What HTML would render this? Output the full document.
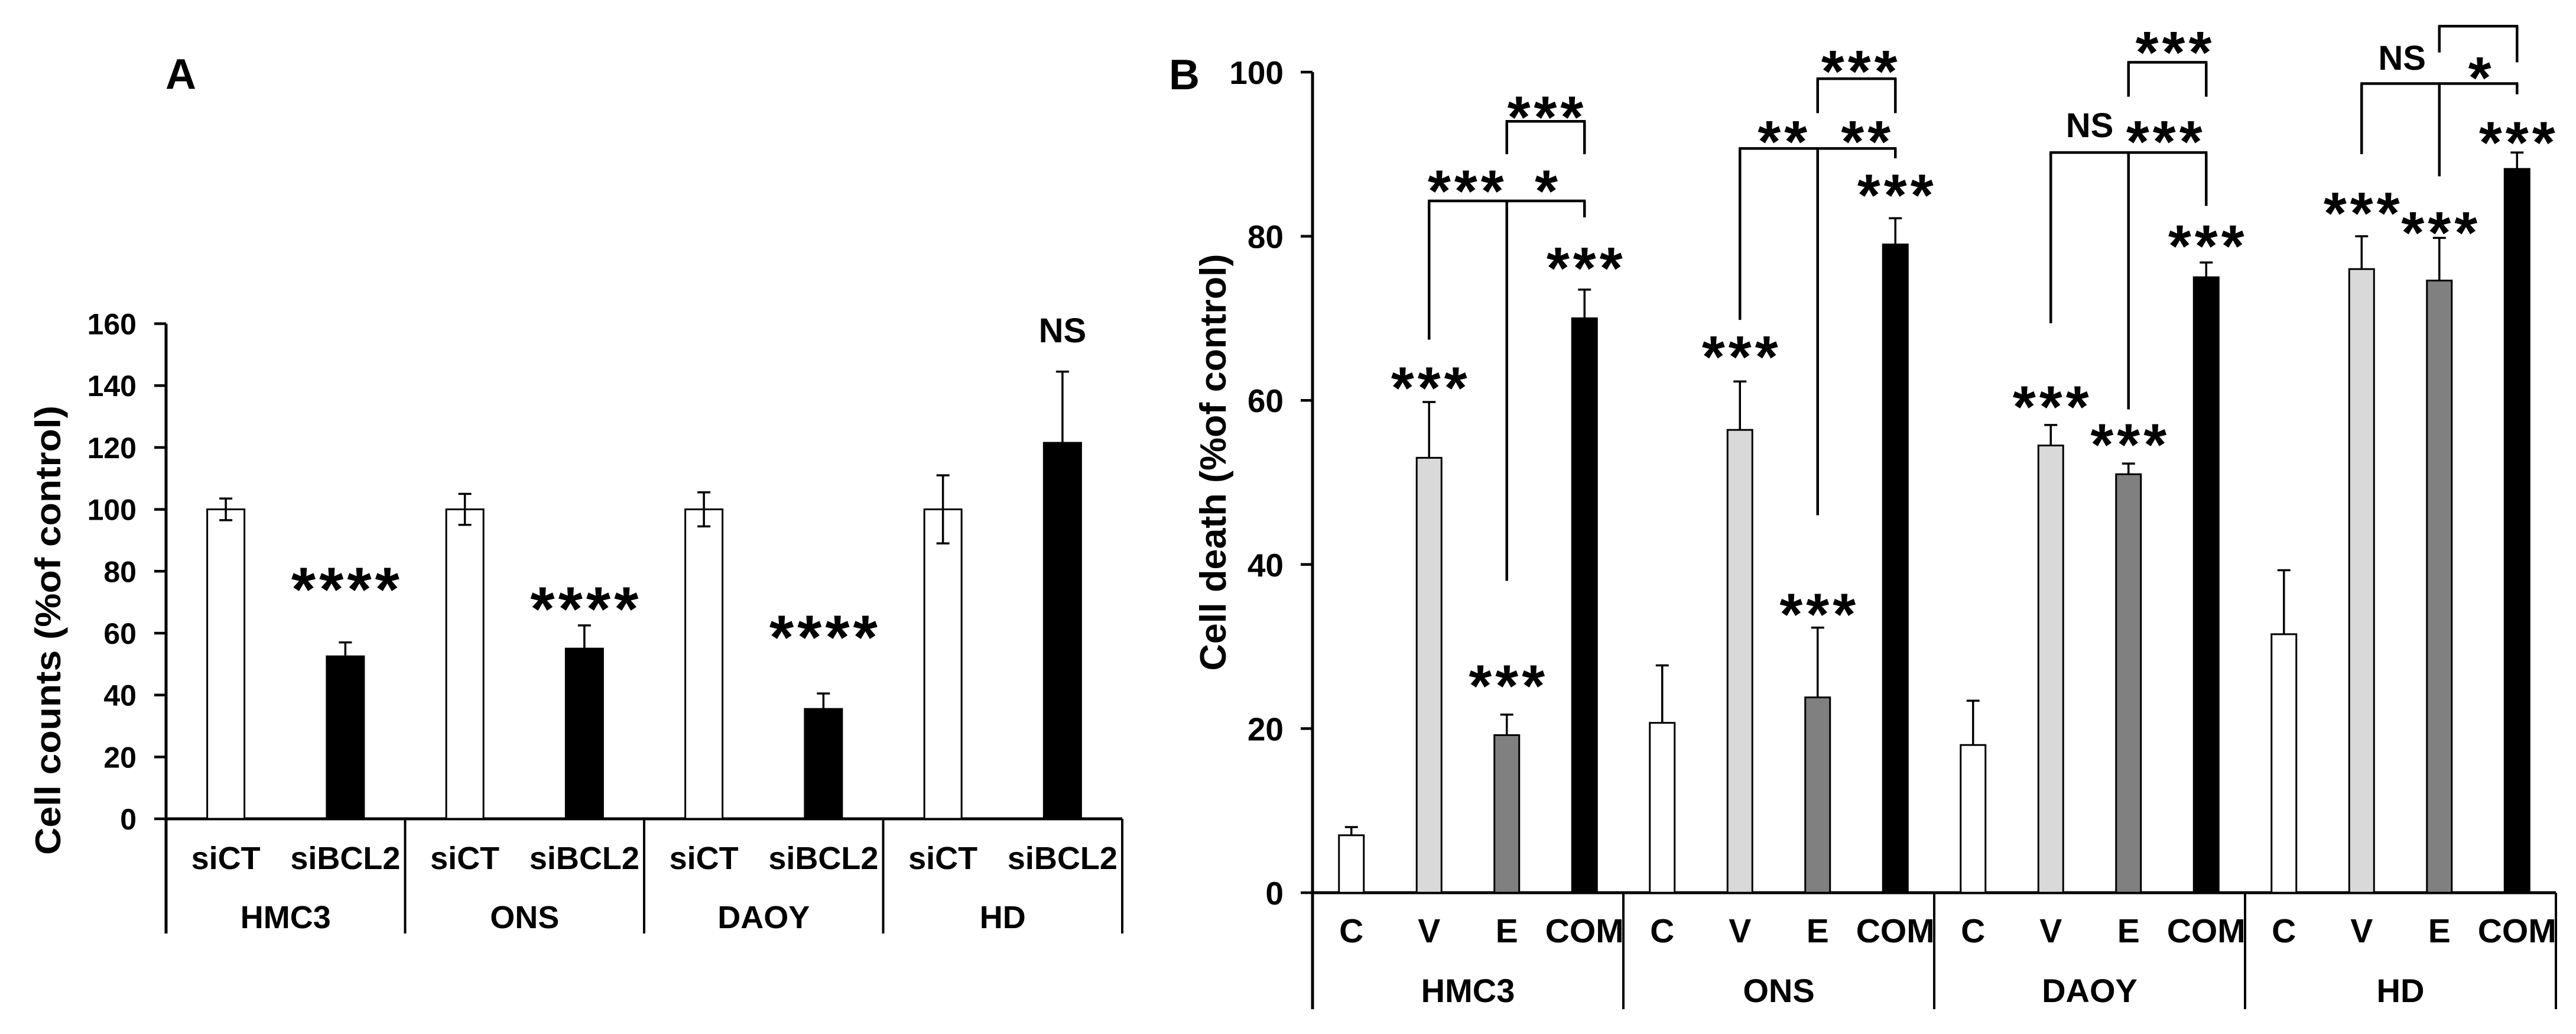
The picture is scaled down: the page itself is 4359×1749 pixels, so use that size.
<!DOCTYPE html>
<html><head><meta charset="utf-8"><style>
html,body{margin:0;padding:0;background:#fff}
svg{display:block}
text{font-family:"Liberation Sans",Arial,sans-serif;font-weight:bold;fill:#000}
</style></head><body>
<svg id="fig" xmlns="http://www.w3.org/2000/svg" width="4359" height="1749" viewBox="0 0 4359 1749">
<rect width="4359" height="1749" fill="#fff"/>
<text x="306" y="150" font-size="72" text-anchor="middle">A</text>
<text x="2004" y="151" font-size="72" text-anchor="middle">B</text>
<text font-size="60" text-anchor="middle" textLength="760" lengthAdjust="spacingAndGlyphs" transform="translate(102,1066) rotate(-90)">Cell counts  (%of control)</text>
<text font-size="62" text-anchor="middle" textLength="705" lengthAdjust="spacingAndGlyphs" transform="translate(2074,782) rotate(-90)">Cell death (%of control)</text>
<g id="pa"></g>
<g id="pb"></g>
</svg>
<script>
// ---------- Panel A data ----------
const aGroups = ["HMC3","ONS","DAOY","HD"];
const aConds = ["siCT","siBCL2"];
const aSiCT = [100,100,100,100];
const aSiCTErr = [3.5,5,5.5,11];
const aSiBCL2 = [52.5,55,35.5,121.5];
const aSiBCL2Err = [4.5,7.5,5,23];
const aSigText = ["****","****","****","NS"];
const aSigY = [78.3,72,62.8,158];
const aTicks = [0,20,40,60,80,100,120,140,160];

// ---------- Panel B data ----------
const bGroups = ["HMC3","ONS","DAOY","HD"];
const bConds = ["C","V","E","COM"];
const bC = [7,20.7,18,31.5];
const bCErr = [1,7,5.4,7.8];
const bV = [53,56.4,54.5,76];
const bVErr = [6.8,5.9,2.5,4];
const bE = [19.2,23.8,51,74.6];
const bEErr = [2.5,8.5,1.3,5.2];
const bCOM = [70,79,75,88.2];
const bCOMErr = [3.5,3.2,1.8,2];
const bStarV = [63,66.8,60.7,84.3];
const bStarE = [26.7,35.4,56.1,81.9];
const bStarCOM = [77.6,86.5,80.3,92.9];
const bLowTop = [84.3,90.7,90.2,98.6];
const bLowLegV = [67.4,69.8,69.4,90];
const bLowLegE = [38,46,58.9,87.3];
const bLowLegCOM = [82.3,89.5,83.7,97.3];
const bUpTop = [94,99.2,101.2,105.6];
const bUpLegE = [90,95,97,102.4];
const bUpLegCOM = [90,95,97,101.2];
const bLabelText = [["***","*","***"],["**","**","***"],["NS","***","***"],["NS","*"]];
const bLabelX = [[0.493,0.752,0.749],[0.512,0.78,0.759],[0.50,0.74,0.77],[0.505,0.755]];
const bLabelY = [[87,87,96],[93,93,101.6],[93.6,93,103.9],[101.8,100.8]];
const bTicks = [0,20,40,60,80,100];

const NS="http://www.w3.org/2000/svg";
function mk(parent,tag,attrs){const e=document.createElementNS(NS,tag);for(const k in attrs)e.setAttribute(k,attrs[k]);parent.appendChild(e);return e;}
function line(p,x1,y1,x2,y2,w){return mk(p,"line",{x1:x1,y1:y1,x2:x2,y2:y2,stroke:"#000","stroke-width":w});}
function txt(p,x,y,s,fs,t,anchor){const e=mk(p,"text",{x:x,y:y,"font-size":fs,"text-anchor":anchor||"middle"});e.textContent=t;return e;}
function star(p,x,yc,t,fs){
  if(t.indexOf("*")>=0){
    const f=fs||100;
    const e=mk(p,"text",{x:x+3,y:yc+f*0.55,"font-size":f,"text-anchor":"middle","letter-spacing":6});e.textContent=t;return e;
  } else {
    const e=mk(p,"text",{x:x,y:yc+21,"font-size":58,"text-anchor":"middle"});e.textContent=t;return e;
  }
}

// ---------- Panel A ----------
(function(){
  const g=document.getElementById("pa");
  const x0=281, gw=(1899-281)/4, y0=1385, y160=547.5;
  const Y=v=>y0-(v/160)*(y0-y160);
  const X=(gi,f)=>x0+gw*(gi+f);
  const bw=63;
  aTicks.forEach(t=>{
    const tk=line(g,x0-20,Y(t),x0,Y(t),4.5);
    
    
    const tl=txt(g,231,Y(t)+18,0,50,String(t),"end");
    
    
  });
  const ax=line(g,x0,Y(160),x0,1579,5);
  
  
  const xa=line(g,x0,y0,1899,y0,5);
  
  
  aGroups.forEach((name,gi)=>{
    const d=line(g,X(gi,1),y0,X(gi,1),1579,4);
    
    
    const vals=[aSiCT[gi],aSiBCL2[gi]], errs=[aSiCTErr[gi],aSiBCL2Err[gi]], fills=["#fff","#000"];
    vals.forEach((v,ci)=>{
      const cx=X(gi,ci===0?0.25:0.75);
      const r=mk(g,"rect",{x:cx-bw/2,y:Y(v),width:bw,height:y0-Y(v),fill:fills[ci],stroke:"#000","stroke-width":3});
      
      
      const e1=line(g,cx,Y(v),cx,Y(v+errs[ci]),3.5);
      
      
      line(g,cx-11,Y(v+errs[ci]),cx+11,Y(v+errs[ci]),3.5);
      if(ci===0) line(g,cx,Y(v),cx,Y(v-errs[ci]),3.5), line(g,cx-11,Y(v-errs[ci]),cx+11,Y(v-errs[ci]),3.5);
      const cl=txt(g,cx,1470,0,54,aConds[ci]);
      
      
    });
    const s=star(g,X(gi,0.75),Y(aSigY[gi]),aSigText[gi],106);
    
    
    const gl=txt(g,X(gi,0.5),1570,0,54,name);
    
    
  });
})();

// ---------- Panel B ----------
(function(){
  const g=document.getElementById("pb");
  const x0=2221, gw=(4325-2221)/4, y0=1510, y100=122;
  const Y=v=>y0-(v/100)*(y0-y100);
  const X=(gi,f)=>x0+gw*(gi+f);
  const bw=42;
  const series=[bC,bV,bE,bCOM], serr=[bCErr,bVErr,bEErr,bCOMErr], fills=["#fff","#d9d9d9","#808080","#000"];
  const pos=[0.125,0.375,0.625,0.875];
  bTicks.forEach(t=>{
    const tk=line(g,x0-20,Y(t),x0,Y(t),4.5);
    
    
    const tl=txt(g,2172,Y(t)+20,0,55,String(t),"end");
    
    
  });
  const ax=line(g,x0,Y(100),x0,1707,5);
  
  
  const xa=line(g,x0,y0,4325,y0,5);
  
  
  bGroups.forEach((name,gi)=>{
    const d=line(g,X(gi,1),y0,X(gi,1),1707,4);
    
    
    series.forEach((arr,ci)=>{
      const v=arr[gi], er=serr[ci][gi], cx=X(gi,pos[ci]);
      const r=mk(g,"rect",{x:cx-bw/2,y:Y(v),width:bw,height:y0-Y(v),fill:fills[ci],stroke:"#000","stroke-width":3});
      
      
      const e1=line(g,cx,Y(v),cx,Y(v+er),3.5);
      
      
      line(g,cx-11,Y(v+er),cx+11,Y(v+er),3.5);
      const cl=txt(g,cx,1594,0,57,bConds[ci]);
      
      
    });
    const gl=txt(g,X(gi,0.5),1695,0,56,name);
    
    
    [[1,bStarV],[2,bStarE],[3,bStarCOM]].forEach(([ci,arr])=>{
      const s=star(g,X(gi,pos[ci]),Y(arr[gi]),"***");
      
      
    });
    const xv=X(gi,pos[1]), xe=X(gi,pos[2]), xc=X(gi,pos[3]);
    const lb=line(g,xv-2,Y(bLowTop[gi]),xc+2,Y(bLowTop[gi]),4.5);
    
    
    line(g,xv,Y(bLowTop[gi]),xv,Y(bLowLegV[gi]),4.5);
    line(g,xe,Y(bLowTop[gi]),xe,Y(bLowLegE[gi]),4.5);
    line(g,xc,Y(bLowTop[gi]),xc,Y(bLowLegCOM[gi]),4.5);
    const ub=line(g,xe-2,Y(bUpTop[gi]),xc+2,Y(bUpTop[gi]),4.5);
    
    
    line(g,xe,Y(bUpTop[gi]),xe,Y(bUpLegE[gi]),4.5);
    line(g,xc,Y(bUpTop[gi]),xc,Y(bUpLegCOM[gi]),4.5);
    bLabelText[gi].forEach((t,li)=>{
      const s=star(g,X(gi,bLabelX[gi][li]),Y(bLabelY[gi][li]),t);
      
      
    });
  });
})();
</script>
</body></html>
